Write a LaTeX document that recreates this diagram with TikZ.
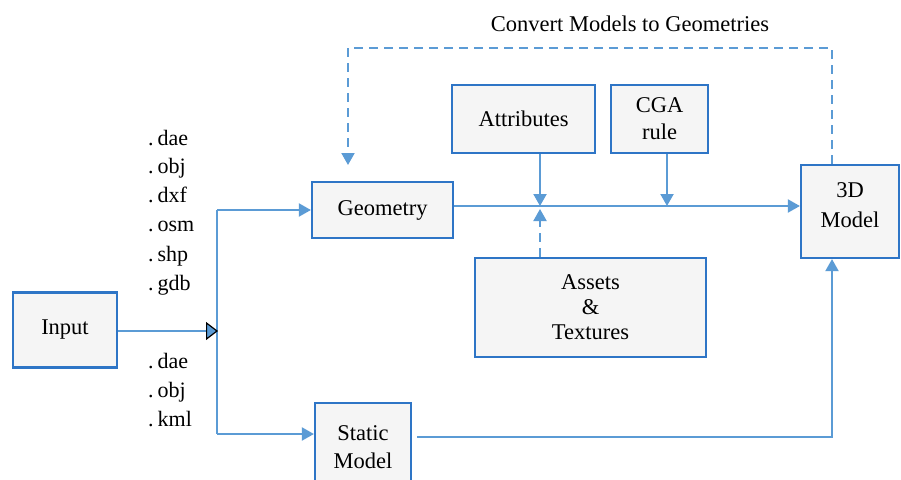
\documentclass[tikz,border=0pt]{standalone}
\usepackage{fontspec}
\setmainfont{Liberation Serif}
\usetikzlibrary{arrows.meta}
\definecolor{boxblue}{HTML}{2E75C6}
\definecolor{lineblue}{HTML}{5B9BD5}
\definecolor{boxfill}{HTML}{F5F5F5}
\begin{document}
\begin{tikzpicture}[x=1pt,y=-1pt,
  box/.style={draw=boxblue,fill=boxfill,line width=2.2pt,align=center,inner sep=0pt,
    font=\fontsize{22.5}{27}\selectfont},
  conn/.style={draw=lineblue,line width=2pt},
  arr/.style={conn,-{Triangle[length=12pt,width=13pt]}},
  darr/.style={arr,dash pattern=on 9pt off 6pt},
  ext/.style={anchor=west,inner sep=0pt,text height=15pt,text depth=5pt,font=\fontsize{22}{25}\selectfont}]
\useasboundingbox (0,0) rectangle (901,479);
\fill[white] (0,0) rectangle (901,479);
% nodes
\node[box,minimum width=104pt,minimum height=75pt] (Input) at (65,330) {Input};
\node[box,minimum width=141pt,minimum height=56pt] (Geometry) at (382.5,210) {Geometry};
\node[box,minimum width=96pt,minimum height=88pt,font=\fontsize{22.5}{28}\selectfont] (Static) at (363,447) {Static\\Model};
\node[box,minimum width=98pt,minimum height=93pt,text depth=13pt,font=\fontsize{22.5}{30}\selectfont] (Model) at (850,211.5) {3D\\Model};
\node[box,minimum width=143pt,minimum height=68pt] (Attributes) at (523.5,119) {Attributes};
\node[box,minimum width=97pt,minimum height=68pt] (CGA) at (659.5,119) {CGA\\rule};
\node[box,minimum width=231pt,minimum height=99pt,font=\fontsize{22.5}{25}\selectfont] (Assets) at (590.5,307.5) {Assets\\\&\\Textures};
\node[inner sep=0pt,font=\fontsize{22.5}{25}\selectfont] (title) at (630,24) {Convert Models to Geometries};
% extension labels
\node[ext] (e1) at (148,140) {.\hspace{4pt}dae};
\node[ext] (e2) at (148,168) {.\hspace{4pt}obj};
\node[ext] (e3) at (148,197) {.\hspace{4pt}dxf};
\node[ext] (e4) at (148,226) {.\hspace{4pt}osm};
\node[ext] (e5) at (148,256) {.\hspace{4pt}shp};
\node[ext] (e6) at (148,285) {.\hspace{4pt}gdb};
\node[ext] (e7) at (148,363) {.\hspace{4pt}dae};
\node[ext] (e8) at (148,392) {.\hspace{4pt}obj};
\node[ext] (e9) at (148,421) {.\hspace{4pt}kml};
% coordinates
\coordinate (jtop) at (217,210);
\coordinate (jmid) at (218,331);
\coordinate (jbot) at (217,434);
\coordinate (hA) at (540,206);
\coordinate (hAb) at (540,209);
\coordinate (hB) at (667,206);
\coordinate (sm) at (832,437);
\coordinate (smS) at (417,437);
\coordinate (fbR) at (832,48);
\coordinate (fbL) at (348,48);
\coordinate (fbEnd) at (348,165);
% connectors
\draw[conn] (jtop) -- (jbot);
\draw[conn,-{Triangle[length=12pt,width=18pt,color=black,fill=lineblue,line width=1.2pt]}] (Input.east |- jmid) -- (jmid);
\draw[arr] (jtop) -- (Geometry.west);
\draw[arr] (jbot) -- (Static.west |- jbot);
\draw[arr] (Geometry.east |- hA) -- (Model.west |- hA);
\draw[arr] (Attributes.south -| hA) -- (hA);
\draw[arr] (CGA.south -| hB) -- (hB);
\draw[darr] (Assets.north -| hAb) -- (hAb);
\draw[arr] (smS) -- (sm) -- (Model.south -| sm);
\draw[darr] (Model.north -| fbR) -- (fbR) -- (fbL) -- (fbEnd);
\end{tikzpicture}
\end{document}
